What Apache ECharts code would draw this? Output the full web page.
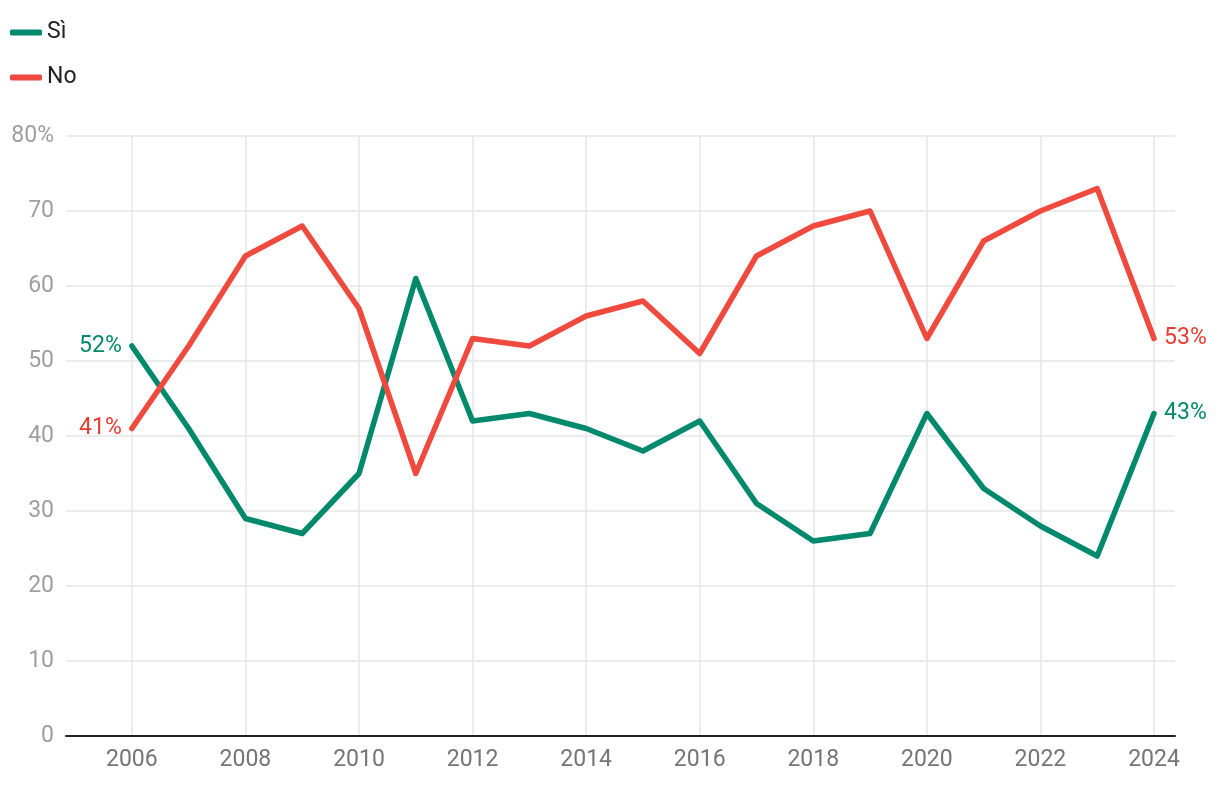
<!DOCTYPE html>
<html>
<head>
<meta charset="utf-8">
<script src="https://cdn.jsdelivr.net/npm/echarts@6/dist/echarts.min.js"></script>
<style>
  html, body { margin: 0; padding: 0; background: #fff; }
  #main { width: 1220px; height: 786px; }
</style>
</head>
<body>
<div id="main"></div>
<script>
// anni e valori (percentuali)
const years = [2006, 2007, 2008, 2009, 2010, 2011, 2012, 2013, 2014, 2015,
  2016, 2017, 2018, 2019, 2020, 2021, 2022, 2023, 2024];
const si = [52, 41, 29, 27, 35, 61, 42, 43, 41, 38, 42, 31, 26, 27, 43, 33, 28, 24, 43];
const no = [41, 52, 64, 68, 57, 35, 53, 52, 56, 58, 51, 64, 68, 70, 53, 66, 70, 73, 53];
const yearTicks = [2006, 2008, 2010, 2012, 2014, 2016, 2018, 2020, 2022, 2024];

const FONT = 'Roboto, sans-serif';
const GREEN = '#00896c';
const RED = '#f04a3e';

function buildData(values, color) {
  const last = values.length - 1;
  return values.map((v, i) => {
    const item = { value: [years[i], v] };
    if (i === 0 || i === last) {
      item.label = {
        show: true,
        position: i === 0 ? 'left' : 'right',
        distance: 10,
        formatter: p => p.value[1] + '%',
        color: color,
        fontSize: 23,
        fontFamily: FONT
      };
    }
    return item;
  });
}

const myChart = echarts.init(document.getElementById('main'));

const option = {
  animation: false,
  legend: {
    orient: 'vertical',
    left: 5,
    top: 16,
    itemWidth: 32,
    itemHeight: 6,
    itemGap: 22,
    icon: 'roundRect',
    textStyle: { fontSize: 23, color: '#222', fontFamily: FONT },
    data: ['Sì', 'No']
  },
  grid: { left: 66, right: 45, top: 136, bottom: 50 },
  xAxis: {
    type: 'value',
    min: 2004.84,
    max: 2024.37,
    axisLine: { show: true, onZero: false, lineStyle: { color: '#222', width: 2 } },
    axisTick: { show: false, customValues: yearTicks },
    axisLabel: {
      customValues: yearTicks,
      color: '#757575',
      fontSize: 23,
      fontFamily: FONT,
      margin: 13,
      formatter: v => String(v)
    },
    splitLine: { show: true, lineStyle: { color: '#e6e6e6', width: 1.5 } }
  },
  yAxis: {
    type: 'value',
    min: 0,
    max: 80,
    interval: 10,
    axisLine: { show: false },
    axisTick: { show: false },
    axisLabel: {
      color: '#9e9e9e',
      fontSize: 23,
      fontFamily: FONT,
      margin: 12,
      formatter: v => (v === 80 ? '80%' : String(v))
    },
    splitLine: { show: true, lineStyle: { color: '#e6e6e6', width: 1.5 } }
  },
  series: [
    {
      name: 'Sì',
      type: 'line',
      data: buildData(si, GREEN),
      color: GREEN,
      symbol: 'circle',
      symbolSize: 0.1,
      lineStyle: { width: 5.5, color: GREEN, cap: 'round', join: 'round' },
      emphasis: { disabled: true }
    },
    {
      name: 'No',
      type: 'line',
      data: buildData(no, '#e63a30'),
      color: RED,
      symbol: 'circle',
      symbolSize: 0.1,
      lineStyle: { width: 5.5, color: RED, cap: 'round', join: 'round' },
      emphasis: { disabled: true }
    }
  ]
};

myChart.setOption(option);
</script>
</body>
</html>
